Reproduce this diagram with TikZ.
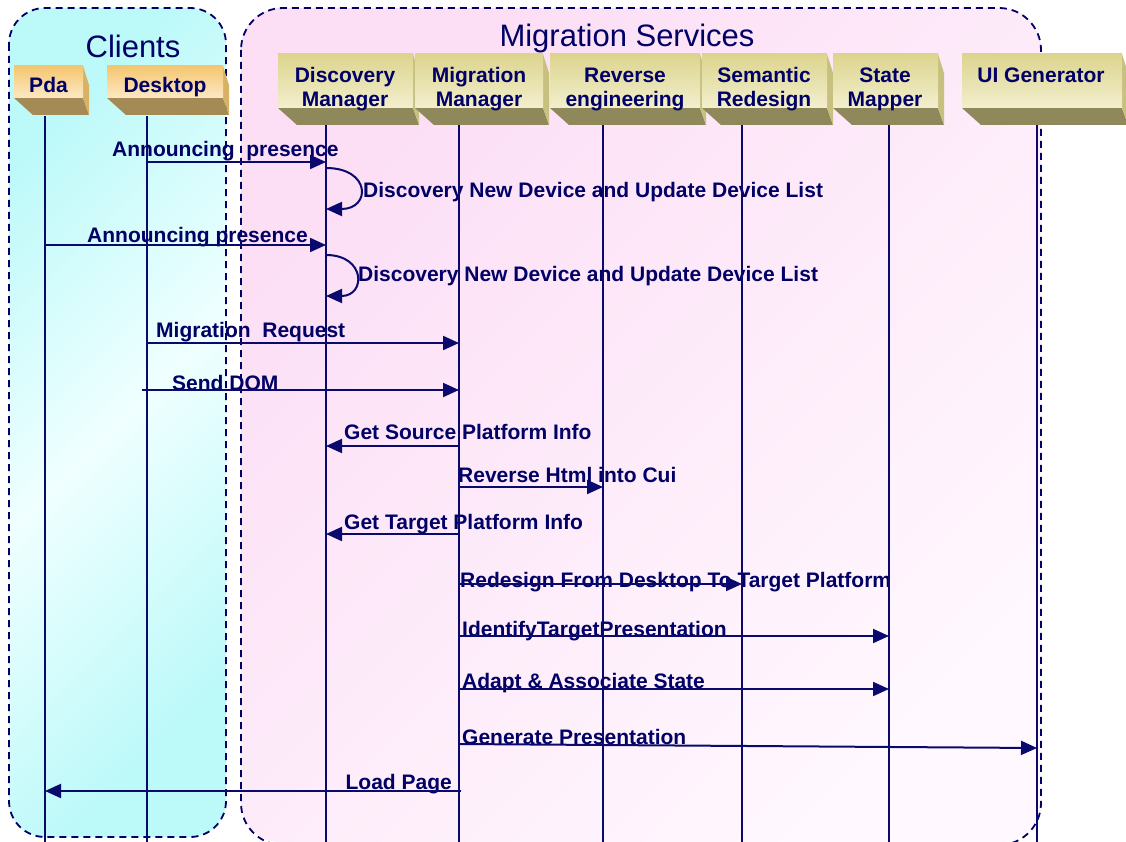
\documentclass[tikz,border=0pt]{standalone}
\usepackage{fontspec}
\setmainfont{Liberation Sans}
\usetikzlibrary{arrows.meta,calc}
\definecolor{ink}{RGB}{0,0,102}
\definecolor{lineblue}{RGB}{10,10,110}
\definecolor{cyl}{RGB}{188,249,249}
\definecolor{cyw}{RGB}{240,255,255}
\definecolor{pka}{RGB}{252,222,245}
\definecolor{pkb}{RGB}{255,248,254}
\definecolor{otop}{RGB}{245,198,112}
\definecolor{olow}{RGB}{252,232,196}
\definecolor{oside}{RGB}{216,178,100}
\definecolor{obot}{RGB}{164,138,84}
\definecolor{stop}{RGB}{220,212,142}
\definecolor{slow}{RGB}{243,239,206}
\definecolor{sside}{RGB}{200,192,126}
\definecolor{sbot}{RGB}{142,136,90}
\newcommand{\hdrfont}{\fontsize{21}{24}\selectfont\bfseries}
\newcommand{\ttlfont}{\fontsize{31}{34}\selectfont}
\newcommand{\headbox}[5]{%
  \fill[#5bot] (#1,#4) -- (#2,#4) -- (#2+6,#4+17) -- (#1+19,#4+17) -- cycle;
  \fill[#5side] (#2,#3) -- (#2+6,#3+19) -- (#2+6,#4+17) -- (#2,#4) -- cycle;
  \shade[top color=#5top, bottom color=#5low] (#1,#3) rectangle (#2,#4);
}
\tikzset{
  x=1pt, y=-1pt,
  group/.style={draw=ink, line width=1.8pt, dash pattern=on 7pt off 5pt, rounded corners=36pt},
  hdr/.style={font=\hdrfont, text=ink, align=center, inner sep=0pt, anchor=north},
  ttl/.style={font=\ttlfont, text=ink, inner sep=0pt, anchor=base},
  lbl/.style={font=\hdrfont, text=ink, inner sep=0pt, anchor=base west},
  lifeline/.style={draw=lineblue, line width=1.8pt},
  msg/.style={draw=lineblue, line width=2pt, -{Triangle[length=16pt,width=14pt]}},
}
\begin{document}
\begin{tikzpicture}
\useasboundingbox (0,0) rectangle (1126,842);
% group backgrounds
\shade[left color=cyl, right color=cyl, middle color=cyw, shading angle=45, rounded corners=36pt] (9,8) rectangle (226,837);
\shade[top color=pka, bottom color=pkb, shading angle=45, rounded corners=40pt] (241,8) rectangle (1041,842);
\draw[group] (9,8) rectangle (226,837);
\draw[group, rounded corners=42pt] (241,8) rectangle (1041,845);
\node[ttl] (tclients) at (133,58) {Clients};
\node[ttl] (tmig) at (627,47) {Migration Services};
% header boxes
\headbox{14}{83}{66}{98}{o}
\headbox{107}{223}{66}{98}{o}
\headbox{278}{413}{54}{108}{s}
\headbox{415}{543}{54}{108}{s}
\headbox{550}{700}{54}{108}{s}
\headbox{702}{827}{54}{108}{s}
\headbox{833}{938}{54}{108}{s}
\headbox{962}{1122}{54}{108}{s}
\node[hdr] (hpda) at (48.5,77) {Pda};
\node[hdr] (hdesk) at (165,77) {Desktop};
\node[hdr] (hdisc) at (345,67.5) {Discovery\\Manager};
\node[hdr] (hmig) at (479,67.5) {Migration\\Manager};
\node[hdr] (hrev) at (625,67.5) {Reverse\\engineering};
\node[hdr] (hsem) at (764,67.5) {Semantic\\Redesign};
\node[hdr] (hsta) at (885,67.5) {State\\Mapper};
\node[hdr] (huig) at (1041,67.5) {UI Generator};
% lifeline ends
\coordinate (pda) at (45,116);   \coordinate (pdab) at (45,842);
\coordinate (desk) at (147,116); \coordinate (deskb) at (147,842);
\coordinate (disc) at (326,125); \coordinate (discb) at (326,842);
\coordinate (mig) at (459,125);  \coordinate (migb) at (459,842);
\coordinate (rev) at (603,125);  \coordinate (revb) at (603,842);
\coordinate (sem) at (742,125);  \coordinate (semb) at (742,842);
\coordinate (sta) at (889,125);  \coordinate (stab) at (889,842);
\coordinate (uig) at (1037,125); \coordinate (uigb) at (1037,842);
% labels
\node[lbl] (l1) at (112,157) {Announcing\ \ presence};
\node[lbl] (l2) at (363,198) {Discovery New Device and Update Device List};
\node[lbl] (l3) at (87,243) {Announcing presence};
\node[lbl] (l4) at (358,281) {Discovery New Device and Update Device List};
\node[lbl] (l5) at (156,337) {Migration\ \ Request};
\node[lbl] (l6) at (172,390) {Send DOM};
\node[lbl] (l7) at (344,439) {Get Source Platform Info};
\node[lbl] (l8) at (458,482) {Reverse Html into Cui};
\node[lbl] (l9) at (344,529) {Get Target Platform Info};
\node[lbl] (l10) at (460,587) {Redesign From Desktop To Target Platform};
\node[lbl] (l11) at (462,636) {IdentifyTargetPresentation};
\node[lbl] (l12) at (462,688) {Adapt \& Associate State};
\node[lbl] (l13) at (462,744) {Generate Presentation};
\node[lbl, anchor=base east] (l14) at (452,789) {Load Page};
% lifelines
\foreach \a/\b in {pda/pdab, desk/deskb, disc/discb, mig/migb, rev/revb, sem/semb, sta/stab, uig/uigb}
  \draw[lifeline] (\a) -- (\b);
% messages
\draw[msg] (desk |- 0,162) -- (disc |- 0,162);
\draw[msg] (disc |- 0,168) .. controls +(45,0) and +(45,0) .. (disc |- 0,209);
\draw[msg] (pda |- 0,245) -- (disc |- 0,245);
\draw[msg] (disc |- 0,255) .. controls +(40,0) and +(40,0) .. (disc |- 0,296);
\draw[msg] (desk |- 0,343) -- (mig |- 0,343);
\draw[msg] ($(desk |- 0,390)+(-5,0)$) -- (mig |- 0,390);
\draw[msg] (mig |- 0,446) -- (disc |- 0,446);
\draw[msg] (mig |- 0,487) -- (rev |- 0,487);
\draw[msg] (mig |- 0,534) -- (disc |- 0,534);
\draw[msg] (mig |- 0,584) -- (sem |- 0,584);
\draw[msg] (mig |- 0,636) -- (sta |- 0,636);
\draw[msg] (mig |- 0,689) -- (sta |- 0,689);
\draw[msg] (mig |- 0,744) -- (uig |- 0,748);
\draw[msg] ($(mig |- 0,791)+(2,0)$) -- (pda |- 0,791);
\end{tikzpicture}
\end{document}
